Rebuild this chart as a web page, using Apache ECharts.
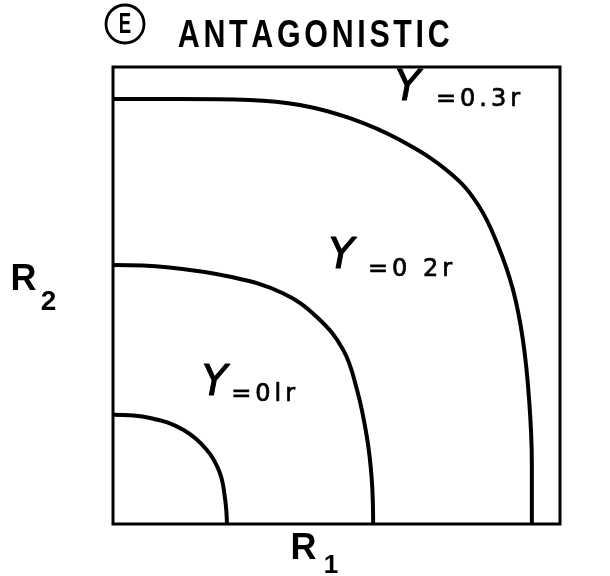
<!DOCTYPE html>
<html><head><meta charset="utf-8">
<script src="https://cdn.jsdelivr.net/npm/echarts@6/dist/echarts.min.js"></script>
<style>html,body{margin:0;padding:0;background:#fff}#c{width:610px;height:576px}</style>
</head><body><div id="c"></div>
<script>
// Isoclines of the antagonistic case (R1, R2 as fractions of the box)
const outerR1 = [0, 0.150, 0.306, 0.418, 0.530, 0.642, 0.754, 0.817, 0.861, 0.895, 0.917, 0.931, 0.937, 0.937];
const outerR2 = [0.930, 0.930, 0.928, 0.917, 0.888, 0.840, 0.768, 0.698, 0.610, 0.512, 0.403, 0.271, 0.133, 0];
const middleR1 = [0, 0.121, 0.268, 0.380, 0.456, 0.515, 0.546, 0.568, 0.579, 0.582];
const middleR2 = [0.567, 0.562, 0.540, 0.505, 0.453, 0.381, 0.293, 0.190, 0.096, 0];
const innerR1 = [0, 0.083, 0.157, 0.210, 0.239, 0.251, 0.255];
const innerR2 = [0.239, 0.232, 0.206, 0.162, 0.112, 0.053, 0];

const curveNames = ['=0.3r', '=0 2r', '=0lr'];
const yLabelAnchor = [[0.659, 0.952], [0.511, 0.583], [0.227, 0.306]];
const restLabelAnchor = [[0.718, 0.928], [0.566, 0.556], [0.260, 0.282]];
const titleText = 'ANTAGONISTIC';
const panelLetter = 'E';

const curves = [[outerR1, outerR2], [middleR1, middleR2], [innerR1, innerR2]];
const pairs = (xs, ys) => xs.map((x, i) => [x, ys[i]]);
const spaced = (s) => s.split('').map(c => '{p|' + c + '}').join('');

const chart = echarts.init(document.getElementById('c'), null, {renderer: 'canvas'});
const ax = {type: 'value', min: 0, max: 1, axisLine: {show: false}, axisTick: {show: false},
  axisLabel: {show: false}, splitLine: {show: false}};
chart.setOption({
  animation: false,
  backgroundColor: '#fff',
  grid: {left: 113, right: 50, top: 67, bottom: 52, show: true, borderColor: '#000', borderWidth: 3,
    backgroundColor: 'transparent'},
  xAxis: ax,
  yAxis: ax,
  series: curves.map((c, i) => ({
    type: 'line', name: curveNames[i], data: pairs(c[0], c[1]), smooth: 0.4, symbol: 'none',
    clip: false, lineStyle: {color: '#000', width: 4}
  }))
});

const px = (p) => chart.convertToPixel({gridIndex: 0}, p);
const g = [];
curveNames.forEach((name, i) => {
  const a = px(yLabelAnchor[i]);
  const b = px(restLabelAnchor[i]);
  g.push({type: 'text', x: a[0], y: a[1], style: {text: 'Y', font: 'italic 42px "DejaVu Sans"',
    fill: '#000', stroke: '#000', lineWidth: 1, align: 'center', verticalAlign: 'middle'}});
  g.push({type: 'text', x: b[0], y: b[1], style: {text: spaced(name), fill: '#000', align: 'left',
    verticalAlign: 'middle', rich: {p: {fontSize: 24, fontFamily: 'DejaVu Sans', fill: '#000',
    stroke: '#000', lineWidth: 0.7, padding: [0, 2]}}}});
});
// axis names
const rect = chart.getModel().getComponent('grid').coordinateSystem.getRect();
g.push({type: 'text', x: rect.x - 89.5, y: rect.y + 213, style: {text: 'R', font: 'bold 36px "Liberation Sans"',
  fill: '#000', align: 'center', verticalAlign: 'middle'}});
g.push({type: 'text', x: rect.x - 64.5, y: rect.y + 235, style: {text: '2', font: 'bold 28px "Liberation Sans"',
  fill: '#000', align: 'center', verticalAlign: 'middle'}});
g.push({type: 'text', x: rect.x + 190.5, y: rect.y + rect.height + 25, style: {text: 'R', font: 'bold 36px "Liberation Sans"',
  fill: '#000', align: 'center', verticalAlign: 'middle'}});
g.push({type: 'text', x: rect.x + 218, y: rect.y + rect.height + 42, style: {text: '1', font: 'bold 26px "Liberation Sans"',
  fill: '#000', align: 'center', verticalAlign: 'middle'}});
// title
g.push({type: 'circle', shape: {cx: 125, cy: 24, r: 19}, style: {fill: 'none', stroke: '#000', lineWidth: 2.8}});
g.push({type: 'text', x: 125, y: 25, scaleX: 0.62, style: {text: panelLetter, font: 'bold 30px "Liberation Sans"',
  fill: '#000', align: 'center', verticalAlign: 'middle'}});
g.push({type: 'text', x: 176, y: 37, scaleX: 0.8, style: {text: spaced(titleText), fill: '#000', align: 'left',
  verticalAlign: 'middle', rich: {p: {fontSize: 38, fontWeight: 'bold', fontFamily: 'Liberation Sans',
  fill: '#000', padding: [0, 2.3]}}}});
chart.setOption({graphic: g});
</script>
</body></html>
